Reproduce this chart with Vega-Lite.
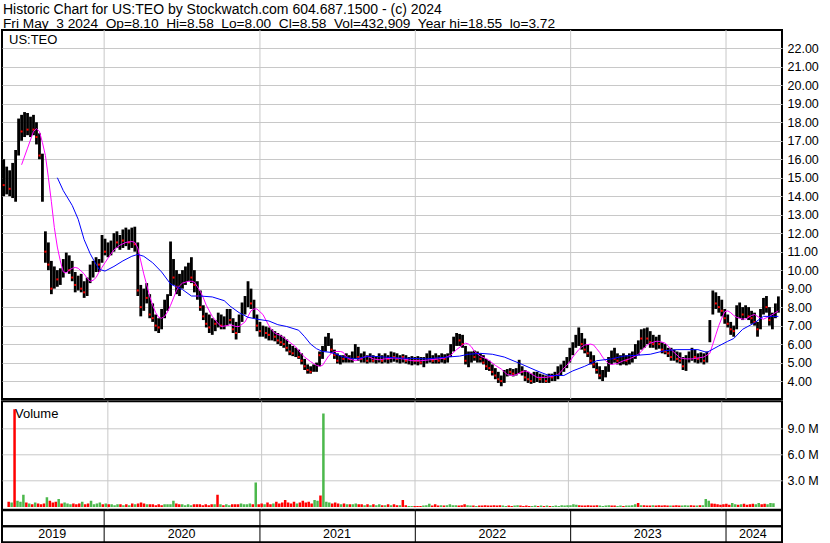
{
"$schema":"https://vega.github.io/schema/vega-lite/v6.json",
"padding":{"left":1,"top":3,"right":0,"bottom":0},
"background":"white",
"config":{"view":{"stroke":"black","strokeWidth":2},"font":"Liberation Sans","axis":{"labelFont":"Liberation Sans"}},
"title":{"text":"Historic Chart for US:TEO by Stockwatch.com 604.687.1500 - (c) 2024","subtitle":"Fri May\u00a0 3 2024\u00a0 Op=8.10\u00a0 Hi=8.58\u00a0 Lo=8.00\u00a0 Cl=8.58\u00a0 Vol=432,909\u00a0 Year hi=18.55\u00a0 lo=3.72","anchor":"start","frame":"group","font":"Liberation Sans","fontSize":14,"fontWeight":"normal","subtitleFont":"Liberation Sans","subtitleFontSize":13.7,"subtitleColor":"black","subtitlePadding":0,"offset":-2.5,"dx":1,"color":"black"},
"datasets":{
"yrs":[{"d":"2020-01-01"},{"d":"2021-01-01"},{"d":"2022-01-01"},{"d":"2023-01-01"},{"d":"2024-01-01"}],
"lbl":[{"yr":"2019","d":"2019-09-01"},{"yr":"2020","d":"2020-07-01"},{"yr":"2021","d":"2021-07-01"},{"yr":"2022","d":"2022-07-01"},{"yr":"2023","d":"2023-07-01"},{"yr":"2024","d":"2024-03-04"}],
"tag":[{"t":"US:TEO","d":"2019-05-06","p":22.45}],
"vtag":[{"t":"Volume","d":"2019-05-06","v":10.7}],
"px":[
{"d":"2019-05-10","h":16.0,"l":14.0,"c":14.6,"v":0.6,"u":0},
{"d":"2019-05-17","h":15.6,"l":14.1,"c":15.0,"v":0.5,"u":1},
{"d":"2019-05-24","h":15.4,"l":14.0,"c":14.4,"v":11.2,"u":0},
{"d":"2019-05-31","h":15.8,"l":13.9,"c":15.2,"v":0.7,"u":1},
{"d":"2019-06-07","h":16.5,"l":13.7,"c":16.2,"v":0.6,"u":1},
{"d":"2019-06-14","h":18.2,"l":16.2,"c":17.8,"v":1.4,"u":1},
{"d":"2019-06-21","h":18.4,"l":17.0,"c":17.5,"v":0.5,"u":0},
{"d":"2019-06-28","h":18.55,"l":17.2,"c":18.0,"v":0.4,"u":1},
{"d":"2019-07-05","h":18.5,"l":17.3,"c":17.6,"v":0.3,"u":0},
{"d":"2019-07-12","h":18.3,"l":17.2,"c":17.9,"v":0.5,"u":1},
{"d":"2019-07-19","h":18.4,"l":17.3,"c":17.6,"v":0.4,"u":0},
{"d":"2019-07-26","h":18.0,"l":16.8,"c":17.2,"v":0.3,"u":0},
{"d":"2019-08-02","h":17.4,"l":16.0,"c":16.2,"v":0.4,"u":0},
{"d":"2019-08-09","h":16.3,"l":13.7,"c":14.4,"v":1.1,"u":1},
{"d":"2019-08-16","h":12.1,"l":10.4,"c":11.0,"v":0.7,"u":0},
{"d":"2019-08-23","h":11.5,"l":10.0,"c":10.3,"v":0.5,"u":0},
{"d":"2019-08-30","h":10.5,"l":8.7,"c":9.0,"v":0.6,"u":0},
{"d":"2019-09-06","h":10.2,"l":9.0,"c":9.6,"v":0.9,"u":1},
{"d":"2019-09-13","h":10.0,"l":9.1,"c":9.5,"v":0.4,"u":0},
{"d":"2019-09-20","h":10.1,"l":9.2,"c":9.9,"v":0.5,"u":1},
{"d":"2019-09-27","h":10.6,"l":9.6,"c":10.3,"v":0.4,"u":1},
{"d":"2019-10-04","h":10.95,"l":9.9,"c":10.5,"v":0.3,"u":1},
{"d":"2019-10-11","h":10.8,"l":9.8,"c":10.0,"v":0.4,"u":0},
{"d":"2019-10-18","h":10.5,"l":9.4,"c":9.6,"v":0.3,"u":0},
{"d":"2019-10-25","h":9.9,"l":8.8,"c":9.2,"v":0.4,"u":0},
{"d":"2019-11-01","h":9.7,"l":8.9,"c":9.3,"v":0.6,"u":1},
{"d":"2019-11-08","h":9.8,"l":8.8,"c":9.0,"v":0.3,"u":0},
{"d":"2019-11-15","h":9.4,"l":8.5,"c":8.8,"v":0.4,"u":0},
{"d":"2019-11-22","h":9.6,"l":8.6,"c":9.4,"v":0.7,"u":1},
{"d":"2019-11-29","h":10.3,"l":9.3,"c":9.9,"v":0.3,"u":1},
{"d":"2019-12-06","h":10.5,"l":9.6,"c":10.2,"v":0.4,"u":1},
{"d":"2019-12-13","h":10.7,"l":9.9,"c":10.4,"v":0.5,"u":1},
{"d":"2019-12-20","h":10.6,"l":9.9,"c":10.3,"v":0.3,"u":0},
{"d":"2019-12-27","h":11.9,"l":10.4,"c":11.3,"v":0.4,"u":1},
{"d":"2020-01-03","h":11.7,"l":10.8,"c":11.0,"v":0.3,"u":0},
{"d":"2020-01-10","h":11.5,"l":10.7,"c":11.2,"v":0.3,"u":1},
{"d":"2020-01-17","h":11.6,"l":10.8,"c":11.4,"v":0.2,"u":1},
{"d":"2020-01-24","h":12.0,"l":11.0,"c":11.8,"v":0.3,"u":1},
{"d":"2020-01-31","h":12.1,"l":11.2,"c":11.5,"v":0.3,"u":0},
{"d":"2020-02-07","h":11.9,"l":11.1,"c":11.7,"v":0.2,"u":1},
{"d":"2020-02-14","h":12.2,"l":11.2,"c":11.6,"v":0.3,"u":0},
{"d":"2020-02-21","h":12.3,"l":11.3,"c":12.0,"v":0.2,"u":1},
{"d":"2020-02-28","h":12.2,"l":11.1,"c":11.5,"v":0.4,"u":0},
{"d":"2020-03-06","h":12.3,"l":11.2,"c":11.9,"v":0.3,"u":1},
{"d":"2020-03-13","h":12.35,"l":11.0,"c":11.4,"v":0.4,"u":0},
{"d":"2020-03-20","h":11.5,"l":8.6,"c":8.9,"v":0.5,"u":0},
{"d":"2020-03-27","h":9.2,"l":7.5,"c":8.0,"v":0.4,"u":0},
{"d":"2020-04-03","h":9.0,"l":7.8,"c":8.6,"v":0.3,"u":1},
{"d":"2020-04-10","h":9.3,"l":8.2,"c":8.5,"v":0.3,"u":0},
{"d":"2020-04-17","h":8.7,"l":7.4,"c":7.6,"v":0.3,"u":0},
{"d":"2020-04-24","h":8.2,"l":7.2,"c":7.4,"v":0.2,"u":0},
{"d":"2020-05-01","h":7.6,"l":6.7,"c":7.0,"v":0.3,"u":0},
{"d":"2020-05-08","h":7.4,"l":6.6,"c":6.9,"v":0.2,"u":0},
{"d":"2020-05-15","h":7.9,"l":6.8,"c":7.6,"v":0.3,"u":1},
{"d":"2020-05-22","h":8.4,"l":7.4,"c":8.2,"v":0.3,"u":1},
{"d":"2020-05-29","h":8.7,"l":7.8,"c":8.5,"v":0.3,"u":1},
{"d":"2020-06-05","h":11.55,"l":8.6,"c":10.2,"v":0.7,"u":1},
{"d":"2020-06-12","h":10.6,"l":9.2,"c":9.6,"v":0.4,"u":0},
{"d":"2020-06-19","h":10.0,"l":8.7,"c":9.1,"v":0.3,"u":0},
{"d":"2020-06-26","h":9.8,"l":8.6,"c":9.4,"v":0.3,"u":1},
{"d":"2020-07-03","h":10.0,"l":9.0,"c":9.6,"v":0.2,"u":1},
{"d":"2020-07-10","h":10.2,"l":9.2,"c":9.8,"v":0.3,"u":1},
{"d":"2020-07-17","h":10.4,"l":9.4,"c":10.0,"v":0.2,"u":1},
{"d":"2020-07-24","h":10.7,"l":9.3,"c":9.6,"v":0.3,"u":0},
{"d":"2020-07-31","h":10.0,"l":8.8,"c":9.2,"v":0.3,"u":0},
{"d":"2020-08-07","h":9.4,"l":8.4,"c":8.6,"v":0.3,"u":0},
{"d":"2020-08-14","h":8.9,"l":7.8,"c":8.0,"v":0.2,"u":0},
{"d":"2020-08-21","h":8.1,"l":7.3,"c":7.5,"v":0.3,"u":0},
{"d":"2020-08-28","h":7.7,"l":6.9,"c":7.1,"v":0.2,"u":0},
{"d":"2020-09-04","h":7.6,"l":6.6,"c":6.9,"v":0.3,"u":0},
{"d":"2020-09-11","h":7.4,"l":6.5,"c":7.0,"v":0.3,"u":1},
{"d":"2020-09-18","h":7.3,"l":6.7,"c":7.1,"v":1.4,"u":0},
{"d":"2020-09-25","h":7.7,"l":6.9,"c":7.4,"v":0.3,"u":1},
{"d":"2020-10-02","h":7.6,"l":6.8,"c":7.0,"v":0.2,"u":0},
{"d":"2020-10-09","h":7.5,"l":6.8,"c":7.2,"v":0.3,"u":1},
{"d":"2020-10-16","h":7.9,"l":7.0,"c":7.5,"v":0.2,"u":1},
{"d":"2020-10-23","h":7.9,"l":7.1,"c":7.3,"v":0.3,"u":0},
{"d":"2020-10-30","h":7.4,"l":6.6,"c":6.8,"v":0.3,"u":0},
{"d":"2020-11-06","h":7.2,"l":6.25,"c":6.6,"v":0.3,"u":0},
{"d":"2020-11-13","h":7.6,"l":6.6,"c":7.3,"v":0.4,"u":1},
{"d":"2020-11-20","h":8.25,"l":7.2,"c":8.0,"v":0.3,"u":1},
{"d":"2020-11-27","h":8.6,"l":7.6,"c":8.3,"v":0.3,"u":1},
{"d":"2020-12-04","h":9.4,"l":8.0,"c":8.9,"v":0.4,"u":1},
{"d":"2020-12-11","h":9.0,"l":7.9,"c":8.2,"v":0.3,"u":0},
{"d":"2020-12-18","h":8.4,"l":7.4,"c":7.6,"v":2.8,"u":1},
{"d":"2020-12-25","h":7.6,"l":6.7,"c":7.0,"v":0.3,"u":0},
{"d":"2021-01-01","h":7.2,"l":6.4,"c":6.7,"v":0.4,"u":0},
{"d":"2021-01-08","h":7.0,"l":6.4,"c":6.8,"v":0.3,"u":1},
{"d":"2021-01-15","h":6.95,"l":6.3,"c":6.6,"v":0.5,"u":0},
{"d":"2021-01-22","h":6.9,"l":6.2,"c":6.5,"v":0.3,"u":0},
{"d":"2021-01-29","h":6.8,"l":6.2,"c":6.6,"v":0.4,"u":1},
{"d":"2021-02-05","h":6.7,"l":6.15,"c":6.4,"v":0.6,"u":0},
{"d":"2021-02-12","h":6.6,"l":6.0,"c":6.2,"v":0.4,"u":0},
{"d":"2021-02-19","h":6.5,"l":5.9,"c":6.1,"v":0.5,"u":0},
{"d":"2021-02-26","h":6.4,"l":5.8,"c":6.0,"v":0.8,"u":0},
{"d":"2021-03-05","h":6.25,"l":5.6,"c":5.8,"v":0.5,"u":0},
{"d":"2021-03-12","h":6.0,"l":5.4,"c":5.6,"v":0.4,"u":0},
{"d":"2021-03-19","h":5.9,"l":5.35,"c":5.5,"v":0.6,"u":0},
{"d":"2021-03-26","h":5.8,"l":5.3,"c":5.5,"v":0.4,"u":1},
{"d":"2021-04-02","h":5.7,"l":5.2,"c":5.3,"v":0.5,"u":0},
{"d":"2021-04-09","h":5.5,"l":4.9,"c":5.1,"v":0.7,"u":0},
{"d":"2021-04-16","h":5.2,"l":4.6,"c":4.8,"v":0.5,"u":0},
{"d":"2021-04-23","h":4.9,"l":4.4,"c":4.6,"v":0.6,"u":0},
{"d":"2021-04-30","h":4.8,"l":4.4,"c":4.5,"v":0.4,"u":0},
{"d":"2021-05-07","h":4.9,"l":4.5,"c":4.6,"v":0.8,"u":1},
{"d":"2021-05-14","h":5.0,"l":4.5,"c":4.9,"v":0.7,"u":1},
{"d":"2021-05-21","h":5.6,"l":4.8,"c":5.4,"v":1.3,"u":0},
{"d":"2021-05-28","h":5.9,"l":5.2,"c":5.6,"v":10.7,"u":1},
{"d":"2021-06-04","h":6.4,"l":5.6,"c":6.1,"v":0.6,"u":1},
{"d":"2021-06-11","h":6.6,"l":5.9,"c":6.3,"v":0.5,"u":1},
{"d":"2021-06-18","h":6.3,"l":5.5,"c":5.7,"v":0.4,"u":0},
{"d":"2021-06-25","h":5.7,"l":5.2,"c":5.4,"v":0.5,"u":0},
{"d":"2021-07-02","h":5.5,"l":4.95,"c":5.1,"v":0.4,"u":0},
{"d":"2021-07-09","h":5.4,"l":4.9,"c":5.2,"v":0.3,"u":1},
{"d":"2021-07-16","h":5.4,"l":5.0,"c":5.2,"v":0.4,"u":0},
{"d":"2021-07-23","h":5.5,"l":5.0,"c":5.3,"v":0.3,"u":1},
{"d":"2021-07-30","h":5.4,"l":5.0,"c":5.2,"v":0.3,"u":0},
{"d":"2021-08-06","h":5.6,"l":5.0,"c":5.4,"v":0.3,"u":1},
{"d":"2021-08-13","h":6.0,"l":5.2,"c":5.6,"v":0.4,"u":1},
{"d":"2021-08-20","h":5.85,"l":5.1,"c":5.3,"v":0.3,"u":0},
{"d":"2021-08-27","h":5.5,"l":5.0,"c":5.2,"v":0.3,"u":0},
{"d":"2021-09-03","h":5.6,"l":5.0,"c":5.3,"v":0.2,"u":1},
{"d":"2021-09-10","h":5.4,"l":4.95,"c":5.1,"v":0.3,"u":0},
{"d":"2021-09-17","h":5.5,"l":5.0,"c":5.3,"v":0.2,"u":1},
{"d":"2021-09-24","h":5.4,"l":5.0,"c":5.1,"v":0.3,"u":0},
{"d":"2021-10-01","h":5.35,"l":4.95,"c":5.2,"v":0.2,"u":1},
{"d":"2021-10-08","h":5.5,"l":5.0,"c":5.3,"v":0.3,"u":1},
{"d":"2021-10-15","h":5.4,"l":4.95,"c":5.1,"v":0.2,"u":0},
{"d":"2021-10-22","h":5.5,"l":5.0,"c":5.3,"v":0.2,"u":1},
{"d":"2021-10-29","h":5.4,"l":4.95,"c":5.2,"v":0.3,"u":0},
{"d":"2021-11-05","h":5.6,"l":5.0,"c":5.4,"v":0.2,"u":1},
{"d":"2021-11-12","h":5.55,"l":5.05,"c":5.3,"v":0.3,"u":0},
{"d":"2021-11-19","h":5.5,"l":5.0,"c":5.2,"v":0.2,"u":0},
{"d":"2021-11-26","h":5.4,"l":4.95,"c":5.2,"v":0.2,"u":1},
{"d":"2021-12-03","h":5.45,"l":5.0,"c":5.3,"v":0.8,"u":0},
{"d":"2021-12-10","h":5.4,"l":4.95,"c":5.1,"v":0.2,"u":0},
{"d":"2021-12-17","h":5.3,"l":4.9,"c":5.1,"v":0.1,"u":1},
{"d":"2021-12-24","h":5.35,"l":4.85,"c":5.2,"v":0.1,"u":1},
{"d":"2021-12-31","h":5.3,"l":4.9,"c":5.1,"v":0.1,"u":0},
{"d":"2022-01-07","h":5.35,"l":4.85,"c":5.1,"v":0.1,"u":0},
{"d":"2022-01-14","h":5.3,"l":4.9,"c":5.0,"v":0.1,"u":0},
{"d":"2022-01-21","h":5.3,"l":4.75,"c":5.0,"v":0.15,"u":1},
{"d":"2022-01-28","h":5.5,"l":4.95,"c":5.3,"v":0.2,"u":1},
{"d":"2022-02-04","h":5.65,"l":5.0,"c":5.2,"v":0.35,"u":1},
{"d":"2022-02-11","h":5.4,"l":4.95,"c":5.1,"v":0.15,"u":0},
{"d":"2022-02-18","h":5.5,"l":4.95,"c":5.2,"v":0.3,"u":0},
{"d":"2022-02-25","h":5.4,"l":4.95,"c":5.1,"v":0.15,"u":0},
{"d":"2022-03-04","h":5.5,"l":5.0,"c":5.3,"v":0.2,"u":1},
{"d":"2022-03-11","h":5.45,"l":4.95,"c":5.2,"v":0.15,"u":0},
{"d":"2022-03-18","h":5.5,"l":5.0,"c":5.4,"v":0.2,"u":1},
{"d":"2022-03-25","h":6.0,"l":5.3,"c":5.8,"v":0.3,"u":1},
{"d":"2022-04-01","h":6.4,"l":5.6,"c":6.2,"v":0.2,"u":1},
{"d":"2022-04-08","h":6.6,"l":5.9,"c":6.3,"v":0.2,"u":1},
{"d":"2022-04-15","h":6.55,"l":5.9,"c":6.2,"v":0.15,"u":0},
{"d":"2022-04-22","h":6.5,"l":5.8,"c":6.0,"v":0.2,"u":0},
{"d":"2022-04-29","h":5.9,"l":4.9,"c":5.1,"v":0.3,"u":0},
{"d":"2022-05-06","h":5.6,"l":4.75,"c":5.3,"v":0.2,"u":1},
{"d":"2022-05-13","h":5.6,"l":5.0,"c":5.4,"v":0.15,"u":1},
{"d":"2022-05-20","h":5.65,"l":5.1,"c":5.3,"v":0.15,"u":0},
{"d":"2022-05-27","h":5.6,"l":5.0,"c":5.4,"v":0.1,"u":1},
{"d":"2022-06-03","h":5.5,"l":5.0,"c":5.2,"v":0.15,"u":0},
{"d":"2022-06-10","h":5.4,"l":4.9,"c":5.0,"v":0.15,"u":0},
{"d":"2022-06-17","h":5.2,"l":4.6,"c":4.8,"v":0.2,"u":0},
{"d":"2022-06-24","h":5.1,"l":4.55,"c":4.7,"v":0.15,"u":0},
{"d":"2022-07-01","h":4.9,"l":4.3,"c":4.5,"v":0.15,"u":0},
{"d":"2022-07-08","h":4.7,"l":4.1,"c":4.3,"v":0.2,"u":0},
{"d":"2022-07-15","h":4.5,"l":3.9,"c":4.1,"v":0.15,"u":0},
{"d":"2022-07-22","h":4.3,"l":3.72,"c":4.0,"v":0.2,"u":0},
{"d":"2022-07-29","h":4.6,"l":3.9,"c":4.4,"v":0.15,"u":1},
{"d":"2022-08-05","h":4.65,"l":4.25,"c":4.5,"v":0.1,"u":1},
{"d":"2022-08-12","h":4.7,"l":4.3,"c":4.5,"v":0.15,"u":0},
{"d":"2022-08-19","h":4.65,"l":4.25,"c":4.4,"v":0.1,"u":0},
{"d":"2022-08-26","h":4.7,"l":4.3,"c":4.6,"v":0.15,"u":1},
{"d":"2022-09-02","h":5.15,"l":4.4,"c":4.8,"v":0.2,"u":1},
{"d":"2022-09-09","h":4.8,"l":4.3,"c":4.5,"v":0.15,"u":0},
{"d":"2022-09-16","h":4.6,"l":4.0,"c":4.2,"v":0.1,"u":0},
{"d":"2022-09-23","h":4.5,"l":3.9,"c":4.1,"v":0.15,"u":0},
{"d":"2022-09-30","h":4.4,"l":3.85,"c":4.0,"v":0.1,"u":0},
{"d":"2022-10-07","h":4.5,"l":3.9,"c":4.2,"v":0.1,"u":1},
{"d":"2022-10-14","h":4.5,"l":3.95,"c":4.3,"v":0.15,"u":1},
{"d":"2022-10-21","h":4.4,"l":3.9,"c":4.1,"v":0.1,"u":0},
{"d":"2022-10-28","h":4.35,"l":3.9,"c":4.1,"v":0.15,"u":1},
{"d":"2022-11-04","h":4.3,"l":3.9,"c":4.0,"v":0.1,"u":0},
{"d":"2022-11-11","h":4.4,"l":3.9,"c":4.2,"v":0.15,"u":1},
{"d":"2022-11-18","h":4.4,"l":4.0,"c":4.2,"v":0.1,"u":0},
{"d":"2022-11-25","h":4.5,"l":4.0,"c":4.3,"v":0.1,"u":1},
{"d":"2022-12-02","h":4.8,"l":4.1,"c":4.6,"v":0.15,"u":1},
{"d":"2022-12-09","h":4.9,"l":4.3,"c":4.7,"v":0.1,"u":1},
{"d":"2022-12-16","h":5.1,"l":4.5,"c":4.9,"v":0.2,"u":1},
{"d":"2022-12-23","h":5.3,"l":4.7,"c":5.1,"v":0.15,"u":1},
{"d":"2022-12-30","h":5.8,"l":5.0,"c":5.6,"v":0.2,"u":1},
{"d":"2023-01-06","h":6.1,"l":5.4,"c":5.9,"v":0.2,"u":1},
{"d":"2023-01-13","h":6.5,"l":5.8,"c":6.2,"v":0.3,"u":1},
{"d":"2023-01-20","h":6.9,"l":5.9,"c":6.6,"v":0.25,"u":1},
{"d":"2023-01-27","h":6.6,"l":5.7,"c":6.0,"v":0.2,"u":0},
{"d":"2023-02-03","h":6.3,"l":5.5,"c":5.7,"v":0.15,"u":0},
{"d":"2023-02-10","h":6.0,"l":5.3,"c":5.5,"v":0.15,"u":0},
{"d":"2023-02-17","h":5.6,"l":4.9,"c":5.1,"v":0.2,"u":0},
{"d":"2023-02-24","h":5.4,"l":4.7,"c":4.9,"v":0.15,"u":0},
{"d":"2023-03-03","h":5.0,"l":4.4,"c":4.6,"v":0.15,"u":0},
{"d":"2023-03-10","h":4.8,"l":4.1,"c":4.3,"v":0.2,"u":0},
{"d":"2023-03-17","h":4.6,"l":4.0,"c":4.3,"v":0.15,"u":1},
{"d":"2023-03-24","h":4.8,"l":4.2,"c":4.5,"v":0.1,"u":1},
{"d":"2023-03-31","h":5.3,"l":4.5,"c":5.0,"v":0.15,"u":1},
{"d":"2023-04-07","h":5.65,"l":4.9,"c":5.3,"v":0.2,"u":1},
{"d":"2023-04-14","h":5.8,"l":5.0,"c":5.2,"v":0.15,"u":0},
{"d":"2023-04-21","h":5.5,"l":4.9,"c":5.1,"v":0.15,"u":0},
{"d":"2023-04-28","h":5.4,"l":4.85,"c":5.2,"v":0.1,"u":1},
{"d":"2023-05-05","h":5.5,"l":4.9,"c":5.3,"v":0.15,"u":1},
{"d":"2023-05-12","h":5.4,"l":4.85,"c":5.1,"v":0.1,"u":0},
{"d":"2023-05-19","h":5.5,"l":4.9,"c":5.3,"v":0.15,"u":1},
{"d":"2023-05-26","h":5.6,"l":5.0,"c":5.4,"v":0.15,"u":1},
{"d":"2023-06-02","h":6.0,"l":5.2,"c":5.7,"v":0.2,"u":1},
{"d":"2023-06-09","h":6.2,"l":5.4,"c":5.9,"v":0.3,"u":1},
{"d":"2023-06-16","h":6.8,"l":5.7,"c":6.3,"v":0.45,"u":0},
{"d":"2023-06-23","h":6.85,"l":5.8,"c":6.5,"v":0.2,"u":1},
{"d":"2023-06-30","h":6.9,"l":6.0,"c":6.3,"v":0.2,"u":0},
{"d":"2023-07-07","h":6.7,"l":5.8,"c":6.1,"v":0.15,"u":0},
{"d":"2023-07-14","h":6.5,"l":5.8,"c":6.0,"v":0.15,"u":0},
{"d":"2023-07-21","h":6.4,"l":5.7,"c":6.1,"v":0.2,"u":1},
{"d":"2023-07-28","h":6.5,"l":5.75,"c":6.0,"v":0.15,"u":0},
{"d":"2023-08-04","h":6.1,"l":5.5,"c":5.7,"v":0.2,"u":0},
{"d":"2023-08-11","h":6.0,"l":5.45,"c":5.6,"v":0.15,"u":0},
{"d":"2023-08-18","h":5.8,"l":5.3,"c":5.5,"v":0.2,"u":0},
{"d":"2023-08-25","h":5.8,"l":5.1,"c":5.3,"v":0.15,"u":0},
{"d":"2023-09-01","h":5.7,"l":5.1,"c":5.4,"v":0.15,"u":1},
{"d":"2023-09-08","h":5.6,"l":5.0,"c":5.2,"v":0.15,"u":0},
{"d":"2023-09-15","h":5.55,"l":4.95,"c":5.1,"v":0.2,"u":0},
{"d":"2023-09-22","h":5.3,"l":4.6,"c":4.8,"v":0.15,"u":0},
{"d":"2023-09-29","h":5.4,"l":4.55,"c":5.0,"v":0.15,"u":1},
{"d":"2023-10-06","h":5.6,"l":5.0,"c":5.4,"v":0.2,"u":1},
{"d":"2023-10-13","h":5.8,"l":5.1,"c":5.5,"v":0.15,"u":1},
{"d":"2023-10-20","h":5.7,"l":5.0,"c":5.3,"v":0.2,"u":0},
{"d":"2023-10-27","h":5.5,"l":4.95,"c":5.2,"v":0.15,"u":0},
{"d":"2023-11-03","h":5.55,"l":5.0,"c":5.3,"v":0.15,"u":1},
{"d":"2023-11-10","h":5.5,"l":4.9,"c":5.1,"v":0.2,"u":0},
{"d":"2023-11-17","h":5.6,"l":5.0,"c":5.4,"v":0.2,"u":1},
{"d":"2023-11-24","h":7.3,"l":6.1,"c":7.0,"v":0.9,"u":1},
{"d":"2023-12-01","h":8.9,"l":7.6,"c":8.4,"v":0.7,"u":1},
{"d":"2023-12-08","h":8.8,"l":7.9,"c":8.2,"v":0.4,"u":0},
{"d":"2023-12-15","h":8.6,"l":7.7,"c":8.0,"v":0.35,"u":0},
{"d":"2023-12-22","h":8.4,"l":7.5,"c":7.8,"v":0.3,"u":0},
{"d":"2023-12-29","h":7.9,"l":7.1,"c":7.4,"v":0.25,"u":0},
{"d":"2024-01-05","h":7.6,"l":6.9,"c":7.1,"v":0.3,"u":0},
{"d":"2024-01-12","h":7.2,"l":6.5,"c":6.8,"v":0.35,"u":0},
{"d":"2024-01-19","h":7.0,"l":6.4,"c":6.7,"v":0.25,"u":0},
{"d":"2024-01-26","h":8.1,"l":6.8,"c":7.8,"v":0.45,"u":1},
{"d":"2024-02-02","h":8.25,"l":7.4,"c":7.8,"v":0.3,"u":1},
{"d":"2024-02-09","h":8.0,"l":7.3,"c":7.6,"v":0.25,"u":0},
{"d":"2024-02-16","h":8.1,"l":7.4,"c":7.7,"v":0.3,"u":1},
{"d":"2024-02-23","h":8.0,"l":7.3,"c":7.5,"v":0.35,"u":0},
{"d":"2024-03-01","h":7.8,"l":7.1,"c":7.4,"v":0.25,"u":0},
{"d":"2024-03-08","h":7.7,"l":7.0,"c":7.2,"v":0.3,"u":0},
{"d":"2024-03-15","h":7.2,"l":6.4,"c":6.8,"v":0.35,"u":0},
{"d":"2024-03-22","h":7.9,"l":6.8,"c":7.6,"v":0.3,"u":1},
{"d":"2024-03-29","h":8.5,"l":7.6,"c":8.2,"v":0.45,"u":1},
{"d":"2024-04-05","h":8.6,"l":7.7,"c":8.0,"v":0.3,"u":0},
{"d":"2024-04-12","h":8.0,"l":7.0,"c":7.3,"v":0.35,"u":0},
{"d":"2024-04-19","h":7.7,"l":6.8,"c":7.4,"v":0.3,"u":1},
{"d":"2024-04-26","h":8.2,"l":7.4,"c":7.9,"v":0.45,"u":1},
{"d":"2024-05-03","h":8.58,"l":7.7,"c":8.58,"v":0.43,"u":1}
],
"mag":[
{"d":"2019-06-21","m":15.7},{"d":"2019-07-05","m":16.6},{"d":"2019-07-19","m":17.5},{"d":"2019-07-26","m":17.65},{"d":"2019-08-02","m":17.5},{"d":"2019-08-09","m":16.9},{"d":"2019-08-16","m":16.2},{"d":"2019-08-23","m":15.0},{"d":"2019-08-30","m":13.7},{"d":"2019-09-06","m":12.3},{"d":"2019-09-13","m":11.25},{"d":"2019-09-20","m":10.5},{"d":"2019-09-27","m":9.9},{"d":"2019-10-04","m":9.85},{"d":"2019-10-11","m":10.0},{"d":"2019-10-18","m":10.1},{"d":"2019-10-25","m":10.15},{"d":"2019-11-01","m":10.1},{"d":"2019-11-08","m":9.95},{"d":"2019-11-15","m":9.8},{"d":"2019-11-22","m":9.55},{"d":"2019-11-29","m":9.4},{"d":"2019-12-06","m":9.45},{"d":"2019-12-13","m":9.6},{"d":"2019-12-20","m":9.9},{"d":"2019-12-27","m":10.15},
{"d":"2020-01-03","m":10.4},{"d":"2020-01-10","m":10.65},{"d":"2020-01-24","m":11.1},{"d":"2020-02-07","m":11.35},{"d":"2020-02-21","m":11.5},{"d":"2020-03-06","m":11.55},{"d":"2020-03-13","m":11.5},{"d":"2020-03-20","m":11.2},{"d":"2020-03-27","m":10.5},{"d":"2020-04-03","m":9.8},{"d":"2020-04-10","m":9.2},{"d":"2020-04-17","m":8.6},{"d":"2020-04-24","m":8.1},{"d":"2020-05-01","m":7.7},{"d":"2020-05-08","m":7.45},{"d":"2020-05-15","m":7.4},{"d":"2020-05-22","m":7.5},{"d":"2020-05-29","m":7.75},{"d":"2020-06-05","m":8.1},{"d":"2020-06-12","m":8.5},{"d":"2020-06-19","m":8.9},{"d":"2020-06-26","m":9.15},{"d":"2020-07-03","m":9.3},{"d":"2020-07-17","m":9.4},{"d":"2020-07-24","m":9.4},{"d":"2020-07-31","m":9.35},{"d":"2020-08-07","m":9.1},{"d":"2020-08-14","m":8.85},{"d":"2020-08-21","m":8.5},{"d":"2020-08-28","m":8.1},{"d":"2020-09-04","m":7.8},{"d":"2020-09-11","m":7.5},{"d":"2020-09-18","m":7.3},{"d":"2020-09-25","m":7.1},{"d":"2020-10-02","m":6.95},{"d":"2020-10-16","m":7.0},{"d":"2020-10-23","m":7.05},{"d":"2020-11-06","m":6.95},{"d":"2020-11-13","m":6.95},{"d":"2020-11-27","m":7.2},{"d":"2020-12-04","m":7.5},{"d":"2020-12-11","m":7.8},{"d":"2020-12-18","m":7.9},{"d":"2020-12-25","m":7.9},
{"d":"2021-01-01","m":7.75},{"d":"2021-01-08","m":7.6},{"d":"2021-01-15","m":7.3},{"d":"2021-01-22","m":7.0},{"d":"2021-01-29","m":6.75},{"d":"2021-02-05","m":6.6},{"d":"2021-02-19","m":6.45},{"d":"2021-02-26","m":6.35},{"d":"2021-03-12","m":6.1},{"d":"2021-03-26","m":5.85},{"d":"2021-04-02","m":5.65},{"d":"2021-04-09","m":5.45},{"d":"2021-04-16","m":5.3},{"d":"2021-04-30","m":5.05},{"d":"2021-05-07","m":4.95},{"d":"2021-05-14","m":4.85},{"d":"2021-05-21","m":4.8},{"d":"2021-05-28","m":4.85},{"d":"2021-06-04","m":5.1},{"d":"2021-06-11","m":5.35},{"d":"2021-06-18","m":5.5},{"d":"2021-06-25","m":5.6},{"d":"2021-07-09","m":5.6},{"d":"2021-07-16","m":5.55},{"d":"2021-07-23","m":5.3},{"d":"2021-07-30","m":5.2},{"d":"2021-08-13","m":5.1},{"d":"2021-08-20","m":5.15},{"d":"2021-09-03","m":5.3},{"d":"2021-09-10","m":5.35},{"d":"2021-09-24","m":5.2},{"d":"2021-10-08","m":5.15},{"d":"2021-10-22","m":5.2},{"d":"2021-11-12","m":5.25},{"d":"2021-12-03","m":5.2},{"d":"2021-12-24","m":5.1},
{"d":"2022-01-14","m":5.1},{"d":"2022-02-04","m":5.15},{"d":"2022-02-25","m":5.2},{"d":"2022-03-11","m":5.25},{"d":"2022-03-25","m":5.4},{"d":"2022-04-01","m":5.55},{"d":"2022-04-08","m":5.7},{"d":"2022-04-22","m":5.95},{"d":"2022-04-29","m":6.05},{"d":"2022-05-06","m":6.0},{"d":"2022-05-13","m":5.85},{"d":"2022-05-20","m":5.6},{"d":"2022-06-03","m":5.35},{"d":"2022-06-17","m":5.2},{"d":"2022-06-24","m":5.1},{"d":"2022-07-08","m":4.85},{"d":"2022-07-22","m":4.65},{"d":"2022-07-29","m":4.5},{"d":"2022-08-05","m":4.35},{"d":"2022-08-19","m":4.3},{"d":"2022-08-26","m":4.35},{"d":"2022-09-09","m":4.5},{"d":"2022-09-16","m":4.55},{"d":"2022-09-23","m":4.5},{"d":"2022-10-07","m":4.3},{"d":"2022-10-14","m":4.2},{"d":"2022-11-04","m":4.2},{"d":"2022-11-18","m":4.25},{"d":"2022-12-02","m":4.35},{"d":"2022-12-09","m":4.5},{"d":"2022-12-16","m":4.7},{"d":"2022-12-23","m":4.85},{"d":"2022-12-30","m":5.05},
{"d":"2023-01-06","m":5.3},{"d":"2023-01-13","m":5.5},{"d":"2023-01-20","m":5.7},{"d":"2023-01-27","m":5.85},{"d":"2023-02-03","m":5.95},{"d":"2023-02-17","m":6.0},{"d":"2023-02-24","m":5.95},{"d":"2023-03-03","m":5.75},{"d":"2023-03-10","m":5.55},{"d":"2023-03-17","m":5.3},{"d":"2023-03-24","m":5.1},{"d":"2023-03-31","m":4.95},{"d":"2023-04-07","m":4.9},{"d":"2023-04-21","m":4.95},{"d":"2023-05-05","m":5.1},{"d":"2023-05-19","m":5.2},{"d":"2023-06-02","m":5.35},{"d":"2023-06-09","m":5.45},{"d":"2023-06-16","m":5.6},{"d":"2023-06-23","m":5.8},{"d":"2023-06-30","m":5.95},{"d":"2023-07-07","m":6.05},{"d":"2023-07-21","m":6.15},{"d":"2023-07-28","m":6.15},{"d":"2023-08-11","m":6.05},{"d":"2023-08-18","m":5.9},{"d":"2023-08-25","m":5.7},{"d":"2023-09-01","m":5.55},{"d":"2023-09-08","m":5.4},{"d":"2023-09-15","m":5.25},{"d":"2023-09-29","m":5.2},{"d":"2023-10-13","m":5.2},{"d":"2023-10-27","m":5.25},{"d":"2023-11-10","m":5.3},{"d":"2023-11-17","m":5.4},{"d":"2023-11-24","m":5.5},{"d":"2023-12-01","m":6.0},{"d":"2023-12-08","m":6.5},{"d":"2023-12-15","m":7.0},{"d":"2023-12-22","m":7.4},{"d":"2023-12-29","m":7.75},
{"d":"2024-01-05","m":7.8},{"d":"2024-01-12","m":7.7},{"d":"2024-01-19","m":7.55},{"d":"2024-01-26","m":7.45},{"d":"2024-02-09","m":7.35},{"d":"2024-02-16","m":7.35},{"d":"2024-03-01","m":7.55},{"d":"2024-03-08","m":7.6},{"d":"2024-03-22","m":7.4},{"d":"2024-03-29","m":7.35},{"d":"2024-04-12","m":7.5},{"d":"2024-04-26","m":7.7},{"d":"2024-05-03","m":7.8}
],
"blu":[
{"d":"2019-09-13","b":15.0},{"d":"2019-09-27","b":14.3},{"d":"2019-10-18","b":13.5},{"d":"2019-11-01","b":12.75},{"d":"2019-11-15","b":11.65},{"d":"2019-11-29","b":10.9},{"d":"2019-12-06","b":10.6},{"d":"2019-12-20","b":10.05},
{"d":"2020-01-03","b":9.95},{"d":"2020-01-24","b":10.2},{"d":"2020-02-14","b":10.5},{"d":"2020-03-06","b":10.75},{"d":"2020-03-20","b":10.85},{"d":"2020-04-03","b":10.75},{"d":"2020-04-24","b":10.4},{"d":"2020-05-15","b":9.9},{"d":"2020-06-05","b":9.25},{"d":"2020-07-03","b":8.95},{"d":"2020-07-24","b":8.6},{"d":"2020-08-14","b":8.6},{"d":"2020-09-11","b":8.55},{"d":"2020-10-09","b":8.35},{"d":"2020-10-23","b":8.05},{"d":"2020-11-13","b":7.7},{"d":"2020-12-04","b":7.45},{"d":"2020-12-25","b":7.35},
{"d":"2021-01-22","b":7.25},{"d":"2021-02-12","b":7.05},{"d":"2021-03-05","b":6.95},{"d":"2021-04-02","b":6.75},{"d":"2021-04-16","b":6.4},{"d":"2021-04-30","b":6.0},{"d":"2021-05-14","b":5.75},{"d":"2021-05-28","b":5.6},{"d":"2021-06-18","b":5.55},{"d":"2021-07-16","b":5.3},{"d":"2021-08-13","b":5.2},{"d":"2021-09-17","b":5.35},{"d":"2021-11-19","b":5.25},
{"d":"2022-01-28","b":5.2},{"d":"2022-03-18","b":5.3},{"d":"2022-04-15","b":5.35},{"d":"2022-05-06","b":5.45},{"d":"2022-06-03","b":5.5},{"d":"2022-07-01","b":5.45},{"d":"2022-07-29","b":5.3},{"d":"2022-09-09","b":4.9},{"d":"2022-10-14","b":4.55},{"d":"2022-11-11","b":4.3},{"d":"2022-12-16","b":4.3},
{"d":"2023-01-06","b":4.55},{"d":"2023-02-03","b":4.8},{"d":"2023-03-03","b":5.1},{"d":"2023-04-07","b":5.2},{"d":"2023-05-05","b":5.35},{"d":"2023-06-09","b":5.4},{"d":"2023-07-07","b":5.45},{"d":"2023-08-11","b":5.65},{"d":"2023-09-08","b":5.7},{"d":"2023-10-27","b":5.7},{"d":"2023-11-17","b":5.55},{"d":"2023-12-15","b":5.9},
{"d":"2024-01-05","b":6.15},{"d":"2024-01-19","b":6.3},{"d":"2024-02-09","b":6.8},{"d":"2024-03-08","b":7.15},{"d":"2024-03-29","b":7.5},{"d":"2024-04-19","b":7.5},{"d":"2024-05-03","b":7.5}
]
},
"vconcat":[
{
"width":780,"height":369,
"layer":[
{"data":{"name":"yrs"},"mark":{"type":"rule","color":"#c8c8c8","strokeWidth":1},
 "encoding":{"x":{"field":"d","type":"temporal","axis":null,"scale":{"domain":[{"year":2019,"month":5,"date":6,"utc":true},{"year":2024,"month":5,"date":11,"hours":12,"utc":true}],"nice":false}}}},
{"data":{"name":"px"},"mark":{"type":"rule","color":"black","strokeWidth":2.8},
 "encoding":{"x":{"field":"d","type":"temporal","axis":null},
  "y":{"field":"l","type":"quantitative","scale":{"domain":[3.03,22.99],"nice":false,"zero":false},
   "axis":{"orient":"right","values":[4,5,6,7,8,9,10,11,12,13,14,15,16,17,18,19,20,21,22],"format":".2f","grid":true,"gridColor":"#c8c8c8","gridWidth":1,"ticks":false,"domain":false,"labelPadding":5,"labelFontSize":12.5,"labelColor":"black","labelFont":"Liberation Sans","title":null,"labelFlush":false,"labelOverlap":false}},
  "y2":{"field":"h"}}},
{"data":{"name":"px"},"transform":[{"filter":"datum.u == 0"}],"mark":{"type":"square","color":"#ff0000","size":4,"opacity":1,"filled":true},
 "encoding":{"x":{"field":"d","type":"temporal","axis":null},"y":{"field":"c","type":"quantitative",
   "axis":{"orient":"right","values":[4,5,6,7,8,9,10,11,12,13,14,15,16,17,18,19,20,21,22],"format":".2f","grid":true,"gridColor":"#c8c8c8","gridWidth":1,"ticks":false,"domain":false,"labelPadding":5,"labelFontSize":12.5,"labelColor":"black","labelFont":"Liberation Sans","title":null,"labelFlush":false,"labelOverlap":false}}}},
{"data":{"name":"mag"},"mark":{"type":"line","color":"#ff00ff","strokeWidth":1},
 "encoding":{"x":{"field":"d","type":"temporal","axis":null},"y":{"field":"m","type":"quantitative",
   "axis":{"orient":"right","values":[4,5,6,7,8,9,10,11,12,13,14,15,16,17,18,19,20,21,22],"format":".2f","grid":true,"gridColor":"#c8c8c8","gridWidth":1,"ticks":false,"domain":false,"labelPadding":5,"labelFontSize":12.5,"labelColor":"black","labelFont":"Liberation Sans","title":null,"labelFlush":false,"labelOverlap":false}}}},
{"data":{"name":"blu"},"mark":{"type":"line","color":"#0000ff","strokeWidth":1},
 "encoding":{"x":{"field":"d","type":"temporal","axis":null},"y":{"field":"b","type":"quantitative",
   "axis":{"orient":"right","values":[4,5,6,7,8,9,10,11,12,13,14,15,16,17,18,19,20,21,22],"format":".2f","grid":true,"gridColor":"#c8c8c8","gridWidth":1,"ticks":false,"domain":false,"labelPadding":5,"labelFontSize":12.5,"labelColor":"black","labelFont":"Liberation Sans","title":null,"labelFlush":false,"labelOverlap":false}}}},
{"data":{"name":"tag"},"mark":{"type":"text","align":"left","baseline":"middle","dx":7,"fontSize":13,"font":"Liberation Sans","color":"black"},
 "encoding":{"x":{"field":"d","type":"temporal","axis":null},"y":{"field":"p","type":"quantitative",
   "axis":{"orient":"right","values":[4,5,6,7,8,9,10,11,12,13,14,15,16,17,18,19,20,21,22],"format":".2f","grid":true,"gridColor":"#c8c8c8","gridWidth":1,"ticks":false,"domain":false,"labelPadding":5,"labelFontSize":12.5,"labelColor":"black","labelFont":"Liberation Sans","title":null,"labelFlush":false,"labelOverlap":false}},"text":{"field":"t"}}}
]
},
{
"vconcat":[
{
"width":780,"height":108.5,
"layer":[
{"data":{"name":"yrs"},"mark":{"type":"rule","color":"#c8c8c8","strokeWidth":1},
 "encoding":{"x":{"field":"d","type":"temporal","axis":null,"scale":{"domain":[{"year":2019,"month":5,"date":6,"utc":true},{"year":2024,"month":5,"date":11,"hours":12,"utc":true}],"nice":false}}}},
{"data":{"name":"px"},"mark":{"type":"bar","size":2.5,"clip":true},
 "encoding":{"x":{"field":"d","type":"temporal","axis":null},
  "y":{"field":"v","type":"quantitative","scale":{"domain":[-0.33,12.1],"nice":false,"zero":false},
   "axis":{"orient":"right","values":[3,6,9],"labelExpr":"format(datum.value,'.1f') + ' M'","grid":true,"gridColor":"#c8c8c8","gridWidth":1,"ticks":false,"domain":false,"labelPadding":5,"labelFontSize":12.5,"labelColor":"black","labelFont":"Liberation Sans","title":null}},
  "y2":{"datum":0},
  "color":{"field":"u","type":"nominal","scale":{"domain":[0,1],"range":["#ff0000","#4cb84c"]},"legend":null}}},
{"data":{"name":"vtag"},"mark":{"type":"text","align":"left","baseline":"middle","dx":8,"fontSize":13,"font":"Liberation Sans","color":"black"},
 "encoding":{"x":{"field":"d","type":"temporal","axis":null},"y":{"field":"v","type":"quantitative",
   "axis":{"orient":"right","values":[3,6,9],"labelExpr":"format(datum.value,'.1f') + ' M'","grid":true,"gridColor":"#c8c8c8","gridWidth":1,"ticks":false,"domain":false,"labelPadding":5,"labelFontSize":12.5,"labelColor":"black","labelFont":"Liberation Sans","title":null}},"text":{"field":"t"}}}
]
},
{
"width":780,"height":16,
"layer":[
{"data":{"name":"yrs"},"mark":{"type":"rule","color":"black","strokeWidth":1},
 "encoding":{"x":{"field":"d","type":"temporal","axis":null,"scale":{"domain":[{"year":2019,"month":5,"date":6,"utc":true},{"year":2024,"month":5,"date":11,"hours":12,"utc":true}],"nice":false}}}}
]
},
{
"width":780,"height":16,
"layer":[
{"data":{"name":"yrs"},"mark":{"type":"rule","color":"black","strokeWidth":1},
 "encoding":{"x":{"field":"d","type":"temporal","axis":null,"scale":{"domain":[{"year":2019,"month":5,"date":6,"utc":true},{"year":2024,"month":5,"date":11,"hours":12,"utc":true}],"nice":false}}}},
{"data":{"name":"lbl"},"mark":{"type":"text","fontSize":12.5,"font":"Liberation Sans","color":"black","align":"center","baseline":"middle"},
 "encoding":{"x":{"field":"d","type":"temporal","axis":null},"text":{"field":"yr"}}}
]
}
],
"spacing":0,
"bounds":"flush",
"resolve":{"scale":{"x":"independent","y":"independent","color":"independent"}}
}
],
"spacing":2.3,
"bounds":"flush",
"resolve":{"scale":{"x":"independent","y":"independent","color":"independent"}}
}
